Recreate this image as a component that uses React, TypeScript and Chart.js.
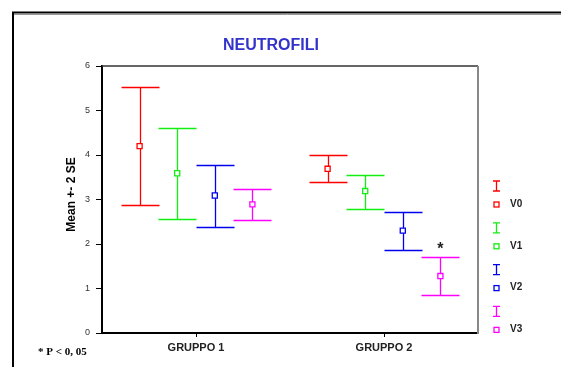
import React, { useEffect, useRef } from "react";
import { Chart, registerables } from "chart.js";

Chart.register(...registerables);

const groups = ["GRUPPO 1", "GRUPPO 2"];
const seriesNames = ["V0", "V1", "V2", "V3"];
const seriesColors = ["#ff0000", "#11ee11", "#0000ee", "#ff00ff"];
const v0Mean = [4.2, 3.69];
const v0Low = [2.87, 3.39];
const v0High = [5.52, 3.99];
const v1Mean = [3.59, 3.19];
const v1Low = [2.56, 2.78];
const v1High = [4.61, 3.56];
const v2Mean = [3.09, 2.3];
const v2Low = [2.38, 1.86];
const v2High = [3.77, 2.72];
const v3Mean = [2.89, 1.28];
const v3Low = [2.53, 0.85];
const v3High = [3.23, 1.7];
const yTicks = [0, 1, 2, 3, 4, 5, 6];
const seriesOffsets = [-0.3, -0.1, 0.1, 0.3];
const starMark = { group: 1, series: 3, y: 1.93 };

const means = [v0Mean, v1Mean, v2Mean, v3Mean];
const lows = [v0Low, v1Low, v2Low, v3Low];
const highs = [v0High, v1High, v2High, v3High];

export default function App() {
  const ref = useRef<HTMLCanvasElement>(null);
  useEffect(() => {
    const canvas = ref.current!;
    const datasets = seriesNames.map((name, s) => ({
      label: name,
      data: groups.map((_, g) => ({ x: g + 0.5 + seriesOffsets[s], y: means[s][g], lo: lows[s][g], hi: highs[s][g] })),
      showLine: false,
      pointStyle: "rect",
      pointRadius: 3.6,
      pointBorderWidth: 1.3,
      pointBackgroundColor: "#ffffff",
      pointBorderColor: seriesColors[s],
      borderColor: seriesColors[s],
      backgroundColor: "#ffffff",
    }));

    const decor = {
      id: "decor",
      beforeDraw(chart: any) {
        const ctx = chart.ctx;
        ctx.save();
        ctx.fillStyle = "#ffffff";
        ctx.fillRect(0, 0, chart.width, chart.height);
        ctx.strokeStyle = "#999";
        ctx.lineWidth = 1;
        ctx.beginPath();
        ctx.moveTo(14, 14.5);
        ctx.lineTo(561, 14.5);
        ctx.stroke();
        ctx.strokeStyle = "#000";
        ctx.lineWidth = 2;
        ctx.beginPath();
        ctx.moveTo(13, 367);
        ctx.lineTo(13, 12.5);
        ctx.lineTo(561, 12.5);
        ctx.stroke();
        ctx.restore();
      },
      beforeDatasetsDraw(chart: any) {
        const ctx = chart.ctx;
        const xs = chart.scales.x;
        const ys = chart.scales.y;
        ctx.save();
        chart.data.datasets.forEach((ds: any, s: number) => {
          ctx.strokeStyle = seriesColors[s];
          ctx.lineWidth = 1.3;
          ds.data.forEach((p: any) => {
            const x = Math.round(xs.getPixelForValue(p.x)) + 0.5;
            const yl = Math.round(ys.getPixelForValue(p.lo)) + 0.5;
            const yh = Math.round(ys.getPixelForValue(p.hi)) + 0.5;
            ctx.beginPath();
            ctx.moveTo(x, yl);
            ctx.lineTo(x, yh);
            ctx.moveTo(x - 19, yl);
            ctx.lineTo(x + 19, yl);
            ctx.moveTo(x - 19, yh);
            ctx.lineTo(x + 19, yh);
            ctx.stroke();
          });
        });
        ctx.restore();
      },
      afterDraw(chart: any) {
        const ctx = chart.ctx;
        const a = chart.chartArea;
        const xs = chart.scales.x;
        const ys = chart.scales.y;
        ctx.save();
        ctx.strokeStyle = "#333";
        ctx.lineWidth = 1.5;
        ctx.beginPath();
        ctx.moveTo(a.left, a.top);
        ctx.lineTo(a.right, a.top);
        ctx.stroke();
        ctx.strokeStyle = "#888";
        ctx.lineWidth = 2;
        ctx.beginPath();
        ctx.moveTo(a.right, a.top);
        ctx.lineTo(a.right, a.bottom + 1);
        ctx.stroke();
        // title
        ctx.fillStyle = "#3333cc";
        ctx.font = "bold 16px Arial, 'Liberation Sans', sans-serif";
        ctx.textAlign = "center";
        ctx.textBaseline = "middle";
        ctx.fillText("NEUTROFILI", 271, 46);
        // y title
        ctx.save();
        ctx.translate(72, (a.top + a.bottom) / 2 - 5);
        ctx.rotate(-Math.PI / 2);
        ctx.fillStyle = "#000";
        ctx.font = "bold 12px Arial, 'Liberation Sans', sans-serif";
        ctx.fillText("Mean +- 2 SE", 0, 0);
        ctx.restore();
        // star
        ctx.fillStyle = "#222";
        ctx.font = "bold 16px Arial, 'Liberation Sans', sans-serif";
        ctx.fillText("*", xs.getPixelForValue(starMark.group + 0.5 + seriesOffsets[starMark.series]), ys.getPixelForValue(starMark.y) + 2);
        // note
        ctx.fillStyle = "#000";
        ctx.font = "bold 11px 'Liberation Serif', 'Times New Roman', serif";
        ctx.textAlign = "left";
        ctx.fillText("* P < 0, 05", 38, 352);
        // legend
        seriesNames.forEach((name, s) => {
          const base = 186 + s * 41.8;
          const cx = 496.5;
          ctx.strokeStyle = seriesColors[s];
          ctx.lineWidth = 1.3;
          ctx.beginPath();
          ctx.moveTo(cx, base - 5);
          ctx.lineTo(cx, base + 5);
          ctx.moveTo(cx - 3.5, base - 5);
          ctx.lineTo(cx + 3.5, base - 5);
          ctx.moveTo(cx - 3.5, base + 5);
          ctx.lineTo(cx + 3.5, base + 5);
          ctx.stroke();
          ctx.strokeRect(cx - 2.5, base + 16, 5, 5);
          ctx.fillStyle = "#222";
          ctx.font = "bold 10px Arial, 'Liberation Sans', sans-serif";
          ctx.textAlign = "left";
          ctx.textBaseline = "middle";
          ctx.fillText(name, 510, base + 18);
        });
        ctx.restore();
      },
    };

    const chart = new Chart(canvas, {
      type: "scatter",
      data: { datasets: datasets as any },
      options: {
        animation: false,
        responsive: false,
        events: [],
        layout: { padding: { left: 72, top: 66, right: 83, bottom: 13 } },
        plugins: { legend: { display: false }, tooltip: { enabled: false }, title: { display: false } },
        scales: {
          x: {
            type: "linear",
            min: 0,
            max: 2,
            afterFit: (sc: any) => { sc.height = 21; },
            afterBuildTicks: (sc: any) => { sc.ticks = groups.map((_, i) => ({ value: i + 0.5 })); },
            ticks: {
              autoSkip: false,
              maxRotation: 0,
              padding: 4,
              color: "#222",
              font: { family: "Arial, 'Liberation Sans', sans-serif", size: 11, weight: "bold" },
              callback: (v: any) => groups[Math.floor(Number(v))],
            },
            grid: { drawOnChartArea: false, drawTicks: true, tickLength: 4, color: "#000", tickColor: "#000" },
            border: { display: true, color: "#000", width: 2 },
          },
          y: {
            min: 0,
            max: 6,
            afterFit: (sc: any) => { sc.width = 30; },
            afterBuildTicks: (sc: any) => { sc.ticks = yTicks.map((v) => ({ value: v })); },
            ticks: {
              padding: 6,
              color: "#333",
              font: { family: "Arial, 'Liberation Sans', sans-serif", size: 9 },
            },
            grid: { drawOnChartArea: false, drawTicks: true, tickLength: 6, color: "#000", tickColor: "#000" },
            border: { display: true, color: "#000", width: 2 },
          },
        },
      },
      plugins: [decor],
    });
    return () => chart.destroy();
  }, []);
  return (
    <div style={{ position: "fixed", left: 0, top: 0, width: 561, height: 367 }}>
      <canvas ref={ref} width={561} height={367} style={{ display: "block", width: 561, height: 367 }} />
    </div>
  );
}
